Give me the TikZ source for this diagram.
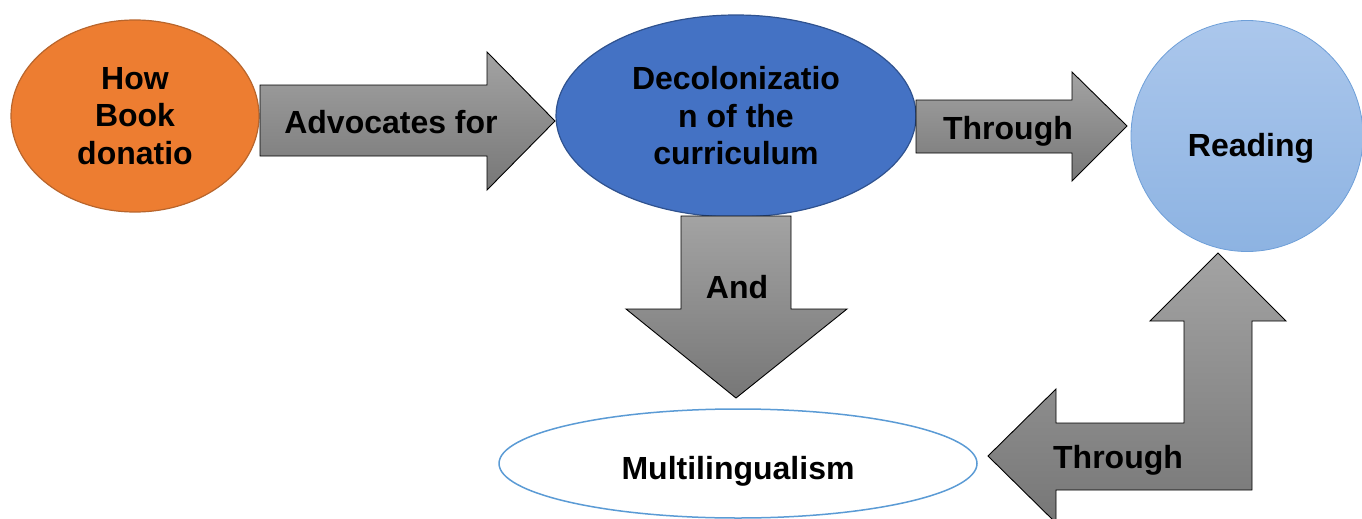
\documentclass[tikz,border=0pt]{standalone}
\usepackage{fontspec}
\setmainfont{Liberation Sans}
\usetikzlibrary{shapes.geometric}
\definecolor{orangefill}{HTML}{ED7D31}
\definecolor{orangeline}{HTML}{B8652C}
\definecolor{bluefill}{HTML}{4472C4}
\definecolor{blueline}{HTML}{2F528F}
\definecolor{readtop}{HTML}{ABC7EC}
\definecolor{readbot}{HTML}{8DB3E2}
\definecolor{readline}{HTML}{6E9FD8}
\definecolor{multiline}{HTML}{5B9BD5}
\definecolor{arrtop}{HTML}{A3A3A3}
\definecolor{arrbot}{HTML}{777777}
\tikzset{
  txt/.style={font=\fontsize{32}{37.5}\selectfont\bfseries, align=center, inner sep=0},
  blob/.style={ellipse, inner sep=0, txt},
  blockarrow/.style={draw=black, line width=0.9pt, top color=arrtop, bottom color=arrbot, line join=miter}
}
\begin{document}
\begin{tikzpicture}[x=1pt,y=-1pt]
\useasboundingbox (0,0) rectangle (1362,519);
% ellipses
\node[blob, draw=orangeline, line width=1.2pt, fill=orangefill, minimum width=248pt, minimum height=192pt] (how) at (135,116) {How\\Book\\donatio};
\node[blob, draw=blueline, line width=1.2pt, fill=bluefill, minimum width=360pt, minimum height=202pt] (deco) at (736,116) {Decolonizatio\\n of the\\curriculum};
\node[blob, draw=readline, line width=0.8pt, top color=readtop, bottom color=readbot, minimum width=232pt, minimum height=231pt] (read) at (1247,136) {};
\node[txt] (readtxt) at (1251,148) {Reading};
\node[blob, draw=multiline, line width=1.5pt, fill=white, minimum width=478pt, minimum height=109pt] (multi) at (738,463.5) {};
\node[txt] (multitxt) at (738,471) {Multilingualism};
% block arrows
\draw[blockarrow] (260,85) -- (487,85) -- (487,52) -- (555,121) -- (487,190) -- (487,156) -- (260,156) -- cycle;
\node[txt] (advtxt) at (391,122) {Advocates for};
\draw[blockarrow] (916,100) -- (1072,100) -- (1072,72) -- (1127,126) -- (1072,181) -- (1072,153) -- (916,153) -- cycle;
\node[txt] (thr1) at (1008,131) {Through};
\draw[blockarrow] (681,216) -- (791,216) -- (791,309) -- (847,309) -- (736,398) -- (626,309) -- (681,309) -- cycle;
\node[txt] (andtxt) at (737,287) {And};
\draw[blockarrow] (1218,253) -- (1286,321) -- (1252,321) -- (1252,490) -- (1056,490) -- (1056,523) -- (988,456) -- (1056,389) -- (1056,423) -- (1184,423) -- (1184,321) -- (1150,321) -- cycle;
\node[txt] (thr2) at (1118,460) {Through};
\end{tikzpicture}
\end{document}
